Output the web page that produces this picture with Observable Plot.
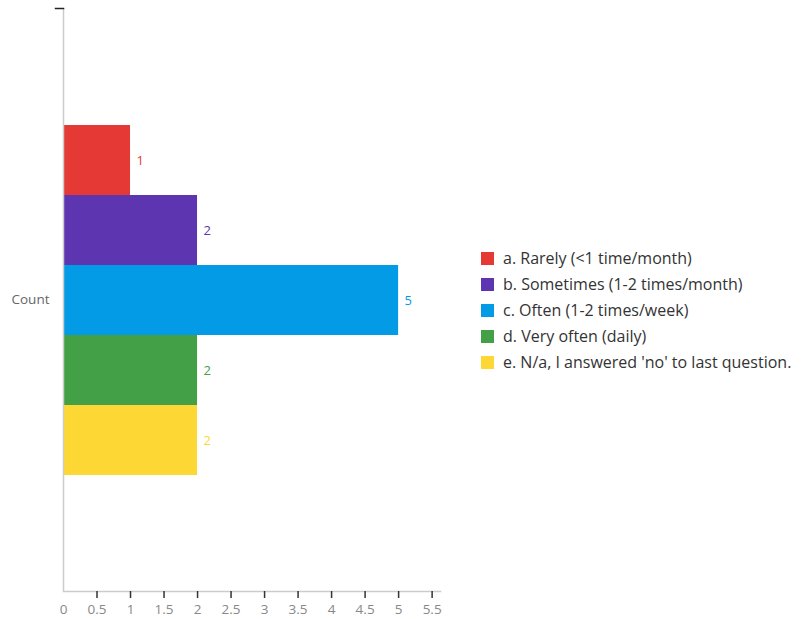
<!DOCTYPE html>
<html>
<head>
<meta charset="utf-8">
<script src="https://cdn.jsdelivr.net/npm/d3@7"></script>
<script src="https://cdn.jsdelivr.net/npm/@observablehq/plot@0.6"></script>
<style>
  html, body { margin: 0; padding: 0; background: #fff; }
  #wrap { position: relative; width: 804px; height: 619px; font-family: "Open Sans", sans-serif; }
  #chart { position: absolute; left: 0; top: 0; }
  #legend { position: absolute; left: 481px; top: 245px; }
  .row { display: flex; align-items: center; height: 26px; font-size: 16px; color: #333; white-space: nowrap; }
  .sw { width: 13px; height: 13px; margin-right: 9px; flex: none; }
</style>
</head>
<body>
<div id="wrap"><div id="chart"></div><div id="legend"></div></div>
<script>
const groupLabel = ["Count"];
const categories = [
  "a. Rarely (<1 time/month)",
  "b. Sometimes (1-2 times/month)",
  "c. Often (1-2 times/week)",
  "d. Very often (daily)",
  "e. N/a, I answered 'no' to last question."
];
const counts = [1, 2, 5, 2, 2];
const colors = ["#e53935", "#5e35b1", "#039be5", "#43a047", "#fdd835"];
const xTicks = [0, 0.5, 1, 1.5, 2, 2.5, 3, 3.5, 4, 4.5, 5, 5.5];

const data = categories.map((c, i) => ({category: c, count: counts[i]}));

const W = 460, H = 619, ML = 63, MR = 20, MT = 8, MB = 28;

const chart = Plot.plot({
  width: W,
  height: H,
  marginLeft: ML,
  marginRight: MR,
  marginTop: MT,
  marginBottom: MB,
  style: {fontFamily: "'Open Sans', sans-serif", background: "#fff"},
  x: {domain: [0, 5.625], axis: null},
  y: {type: "band", domain: categories, paddingInner: 0, paddingOuter: 1.66, axis: null},
  color: {domain: categories, range: colors},
  marks: [
    Plot.barX(data, {x: "count", y: "category", fill: "category"}),
    Plot.text(data, {x: "count", y: "category", text: d => String(d.count), fill: "category", textAnchor: "start", dx: 6, fontSize: 13}),
    Plot.ruleX([0], {stroke: "#ccc", strokeWidth: 1.5}),
    Plot.frame({anchor: "bottom", stroke: "#ccc", strokeWidth: 1.5}),
    Plot.frame({anchor: "top", stroke: "#222", strokeWidth: 1.5, insetLeft: -8, insetRight: W - ML - MR}),
    Plot.axisX({ticks: xTicks.filter(t => t > 0), tickSize: 7, text: null, label: null, stroke: "#333", strokeWidth: 1.5}),
    Plot.axisX({ticks: xTicks, tickSize: 0, tickPadding: 13, tickFormat: d => String(d), fill: "#888", fontSize: 13.5, label: null}),
    Plot.text(groupLabel, {text: d => d, frameAnchor: "left", dx: -14, textAnchor: "end", fill: "#666", fontSize: 13.5})
  ]
});
document.getElementById("chart").appendChild(chart);

const legend = document.getElementById("legend");
categories.forEach((c, i) => {
  const row = document.createElement("div");
  row.className = "row";
  const sw = document.createElement("span");
  sw.className = "sw";
  sw.style.background = colors[i];
  const t = document.createElement("span");
  t.textContent = c;
  row.appendChild(sw);
  row.appendChild(t);
  legend.appendChild(row);
});
</script>
</body>
</html>
